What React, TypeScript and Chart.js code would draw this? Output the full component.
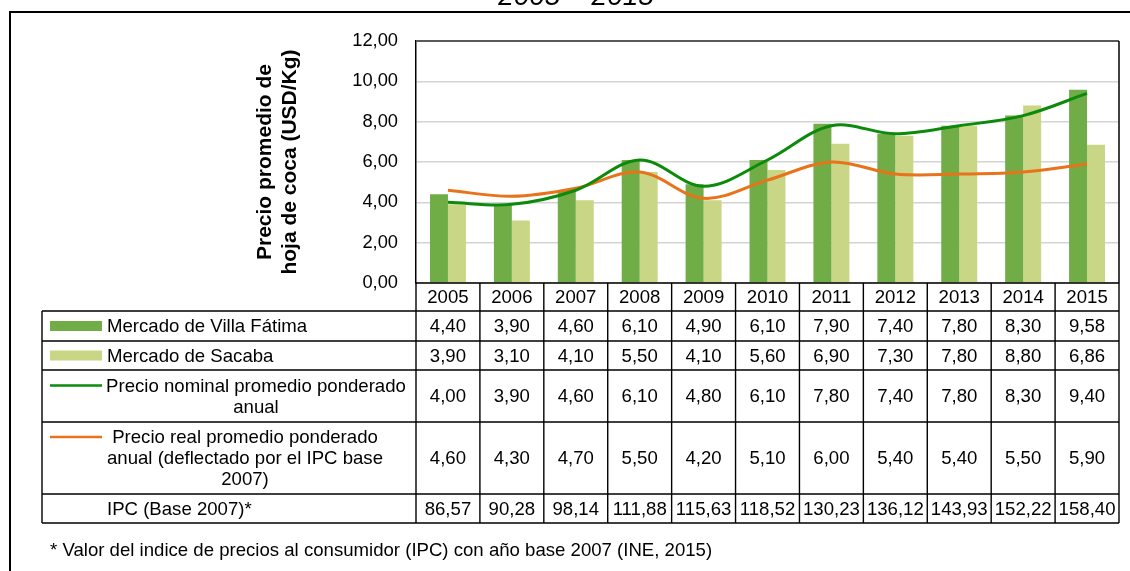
import React, { useEffect, useRef } from 'react';
import { Chart, registerables } from 'chart.js';

Chart.register(...registerables);

// ---- data ----
const years = ['2005', '2006', '2007', '2008', '2009', '2010', '2011', '2012', '2013', '2014', '2015'];
const villaFatima = [4.4, 3.9, 4.6, 6.1, 4.9, 6.1, 7.9, 7.4, 7.8, 8.3, 9.58];
const sacaba = [3.9, 3.1, 4.1, 5.5, 4.1, 5.6, 6.9, 7.3, 7.8, 8.8, 6.86];
const nominal = [4.0, 3.9, 4.6, 6.1, 4.8, 6.1, 7.8, 7.4, 7.8, 8.3, 9.4];
const real = [4.6, 4.3, 4.7, 5.5, 4.2, 5.1, 6.0, 5.4, 5.4, 5.5, 5.9];
const ipc = [86.57, 90.28, 98.14, 111.88, 115.63, 118.52, 130.23, 136.12, 143.93, 152.22, 158.4];
const yMin = 0;
const yMax = 12;
const yStep = 2;

const titleText = '2005 – 2015';
const yTitleLines = ['Precio promedio de', 'hoja de coca (USD/Kg)'];
const labelVilla = ['Mercado de Villa Fátima'];
const labelSacaba = ['Mercado de Sacaba'];
const labelNominal = ['Precio nominal promedio ponderado', 'anual'];
const labelReal = ['Precio real promedio ponderado', 'anual (deflectado por el IPC base', '2007)'];
const labelIpc = ['IPC (Base 2007)*'];
const footnote = '* Valor del indice de precios al consumidor (IPC) con año base 2007 (INE, 2015)';

// ---- styles ----
const FONT = '"Liberation Sans", Arial, Helvetica, sans-serif';
const C_DARK = '#70AD47';
const C_LIGHT = '#C8D686';
const C_NOM = '#0B8A0B';
const C_REAL = '#E8731A';
const TABLE_FONT = 18.6;

const fmt = (v: number) => v.toFixed(2).replace('.', ',');

const W = 1130;
const H = 571;

const tablePlugin = {
  id: 'tablePlugin',
  afterDraw(chart: any) {
    const ctx: CanvasRenderingContext2D = chart.ctx;
    const area = chart.chartArea;
    const xs = chart.scales.x;
    const n = years.length;
    const colW = (area.right - area.left) / n;
    const tableLeft = 42;
    const headerTop = area.bottom;
    const rowHeights = [28, 30, 29, 52, 72, 29];
    const bounds: number[] = [headerTop];
    rowHeights.forEach((h) => bounds.push(bounds[bounds.length - 1] + h));

    ctx.save();
    // outer frame
    ctx.strokeStyle = '#000';
    ctx.lineWidth = 2;
    ctx.beginPath();
    ctx.moveTo(10, H);
    ctx.lineTo(10, 12);
    ctx.lineTo(W, 12);
    ctx.stroke();

    // title (cut off at top)
    ctx.fillStyle = '#000';
    ctx.font = `italic 28px ${FONT}`;
    ctx.textAlign = 'center';
    ctx.textBaseline = 'alphabetic';
    ctx.fillText(titleText, 576, 5);

    // plot border top/right
    ctx.strokeStyle = '#595959';
    ctx.lineWidth = 2;
    ctx.beginPath();
    ctx.moveTo(area.left, area.top);
    ctx.lineTo(area.right, area.top);
    ctx.stroke();
    ctx.strokeStyle = '#000';
    ctx.lineWidth = 1.5;
    ctx.beginPath();
    ctx.moveTo(area.right, area.top);
    ctx.lineTo(area.right, area.bottom);
    ctx.stroke();

    // y axis title
    ctx.save();
    ctx.translate(0, (area.top + area.bottom) / 2);
    ctx.rotate(-Math.PI / 2);
    ctx.font = `bold 21px ${FONT}`;
    ctx.textAlign = 'center';
    ctx.textBaseline = 'middle';
    ctx.fillText(yTitleLines[0], 0, 265);
    ctx.fillText(yTitleLines[1], 0, 290);
    ctx.restore();

    // table grid
    ctx.strokeStyle = '#000';
    ctx.lineWidth = 1.4;
    ctx.beginPath();
    ctx.moveTo(area.left, bounds[0]);
    ctx.lineTo(area.right, bounds[0]);
    for (let r = 1; r < bounds.length; r++) {
      ctx.moveTo(tableLeft, bounds[r]);
      ctx.lineTo(area.right, bounds[r]);
    }
    ctx.moveTo(tableLeft, bounds[1]);
    ctx.lineTo(tableLeft, bounds[bounds.length - 1]);
    for (let c = 0; c <= n; c++) {
      const x = area.left + c * colW;
      ctx.moveTo(x, bounds[0]);
      ctx.lineTo(x, bounds[bounds.length - 1]);
    }
    ctx.stroke();

    // cells
    ctx.fillStyle = '#000';
    ctx.font = `${TABLE_FONT}px ${FONT}`;
    ctx.textAlign = 'center';
    ctx.textBaseline = 'middle';
    const rowsData = [villaFatima, sacaba, nominal, real, ipc];
    for (let c = 0; c < n; c++) {
      const cx = xs.getPixelForValue(c);
      ctx.fillText(years[c], cx, (bounds[0] + bounds[1]) / 2 + 1);
      rowsData.forEach((arr, r) => {
        ctx.fillText(fmt(arr[c]), cx, (bounds[r + 1] + bounds[r + 2]) / 2 + 1);
      });
    }

    // legend labels
    const mid = (r: number) => (bounds[r] + bounds[r + 1]) / 2;
    const lh = 21;
    ctx.textAlign = 'left';
    ctx.fillText(labelVilla[0], 107, mid(1) + 1);
    ctx.fillText(labelSacaba[0], 107, mid(2) + 1);
    ctx.fillText(labelIpc[0], 107, mid(5) + 1);
    ctx.textAlign = 'center';
    labelNominal.forEach((t, i) => {
      ctx.fillText(t, 256, mid(3) + 1 + (i - (labelNominal.length - 1) / 2) * lh);
    });
    labelReal.forEach((t, i) => {
      ctx.fillText(t, 245, mid(4) + 1 + (i - (labelReal.length - 1) / 2) * lh);
    });

    // legend keys
    ctx.fillStyle = C_DARK;
    ctx.fillRect(50, mid(1) - 5, 52, 10);
    ctx.fillStyle = C_LIGHT;
    ctx.fillRect(50, mid(2) - 5, 52, 10);
    ctx.lineWidth = 2.5;
    ctx.strokeStyle = C_NOM;
    let ky = mid(3) - lh / 2;
    ctx.beginPath();
    ctx.moveTo(50, ky);
    ctx.lineTo(102, ky);
    ctx.stroke();
    ctx.strokeStyle = C_REAL;
    ky = mid(4) - lh;
    ctx.beginPath();
    ctx.moveTo(50, ky);
    ctx.lineTo(102, ky);
    ctx.stroke();

    // footnote
    ctx.fillStyle = '#000';
    ctx.font = `${TABLE_FONT}px ${FONT}`;
    ctx.textAlign = 'left';
    ctx.textBaseline = 'middle';
    ctx.fillText(footnote, 50, 551);
    ctx.restore();
  },
};

export default function App() {
  const ref = useRef<HTMLCanvasElement | null>(null);
  useEffect(() => {
    if (!ref.current) return;
    const chart = new Chart(ref.current, {
      type: 'bar',
      data: {
        labels: years,
        datasets: [
          {
            type: 'line',
            label: 'Precio nominal promedio ponderado anual',
            data: nominal,
            borderColor: C_NOM,
            backgroundColor: C_NOM,
            borderWidth: 3,
            pointRadius: 0,
            tension: 0.35,
            order: 0,
          } as any,
          {
            type: 'line',
            label: 'Precio real promedio ponderado anual',
            data: real,
            borderColor: C_REAL,
            backgroundColor: C_REAL,
            borderWidth: 3,
            pointRadius: 0,
            tension: 0.35,
            order: 1,
          } as any,
          {
            type: 'bar',
            label: 'Mercado de Villa Fátima',
            data: villaFatima,
            backgroundColor: C_DARK,
            categoryPercentage: 0.5625,
            barPercentage: 1,
            order: 2,
          },
          {
            type: 'bar',
            label: 'Mercado de Sacaba',
            data: sacaba,
            backgroundColor: C_LIGHT,
            categoryPercentage: 0.5625,
            barPercentage: 1,
            order: 2,
          },
        ],
      },
      options: {
        animation: false,
        responsive: false,
        devicePixelRatio: 1,
        layout: { padding: { left: 0, top: 41, right: 11, bottom: 288 } },
        plugins: { legend: { display: false }, tooltip: { enabled: false }, title: { display: false } },
        scales: {
          x: { display: false, offset: true },
          y: {
            min: yMin,
            max: yMax,
            afterFit: (scale: any) => {
              scale.width = 416;
            },
            ticks: {
              stepSize: yStep,
              padding: 18,
              color: '#000',
              font: { family: FONT, size: 18.3 },
              callback: (v: any) => fmt(Number(v)),
            },
            grid: { color: '#D4D4D4', lineWidth: 1.5, drawTicks: false },
            border: { display: true, color: '#000', width: 1.5 },
          },
        },
      },
      plugins: [tablePlugin],
    });
    return () => chart.destroy();
  }, []);
  return (
    <div style={{ position: 'fixed', left: 0, top: 0, width: W, height: H, background: '#fff' }}>
      <canvas ref={ref} width={W} height={H} style={{ width: W, height: H, display: 'block' }} />
    </div>
  );
}
